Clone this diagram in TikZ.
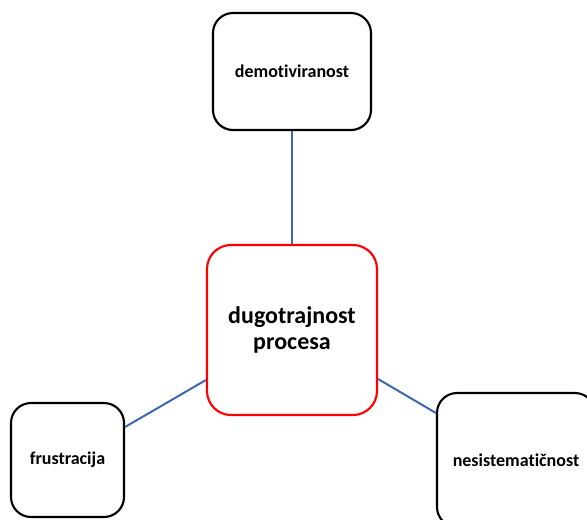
\documentclass[tikz,border=0pt]{standalone}
\usepackage{fontspec}
\setmainfont[Ligatures=NoCommon]{Carlito}
\begin{document}
\begin{tikzpicture}[x=0.75pt,y=-0.75pt,
  box/.style={draw=black, line width=1.6pt, rounded corners=15pt, fill=white, align=center, inner sep=0pt, font=\bfseries\fontsize{13.5}{16}\selectfont},
  mainbox/.style={box, draw=red, rounded corners=18pt, font=\bfseries\fontsize{18}{19.5}\selectfont},
  link/.style={draw={rgb,255:red,62;green,102;blue,178}, line width=1.5pt}]
\useasboundingbox (0,0) rectangle (587,519);
\clip (0,0) rectangle (587,519);
\node[box, minimum width=158*0.75pt, minimum height=117*0.75pt] (t) at (292,71.5) {demotiviranost};
\node[mainbox, minimum width=170*0.75pt, minimum height=170*0.75pt] (c) at (292,330) {dugotrajnost\\procesa};
\node[box, minimum width=113*0.75pt, minimum height=114*0.75pt] (l) at (67.5,460) {frustracija};
\node[box, minimum width=158*0.75pt, minimum height=134*0.75pt] (r) at (516,460) {nesistematičnost};
\draw[link] (t.south) -- (c.north);
\draw[link] ([yshift=-37.5pt]c.west) -- ([yshift=24.75pt]l.east);
\draw[link] ([yshift=-36.75pt]c.east) -- ([yshift=35.25pt]r.west);
\end{tikzpicture}
\end{document}
